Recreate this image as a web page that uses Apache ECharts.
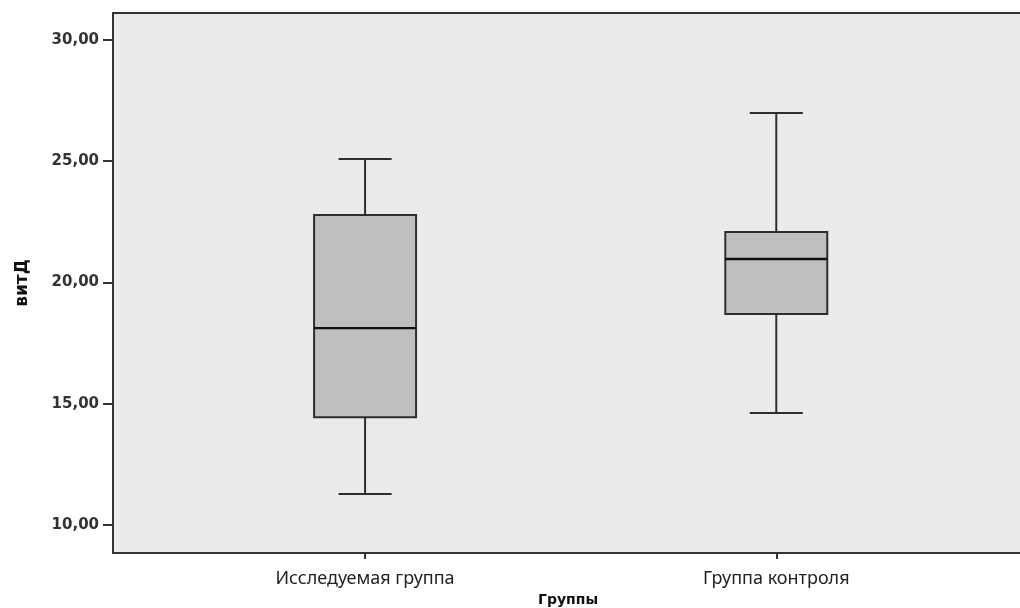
<!DOCTYPE html>
<html>
<head>
<meta charset="utf-8">
<script src="https://cdn.jsdelivr.net/npm/echarts@6/dist/echarts.min.js"></script>
<style>
  html, body { margin: 0; padding: 0; background: #fff; }
  #chart { width: 1020px; height: 608px; }
</style>
</head>
<body>
<div id="chart"></div>
<script>
// Groups and their box-plot statistics (витД)
const groups = ['Исследуемая группа', 'Группа контроля'];
const groupPos = [1, 2];
const whiskerLow = [11.28, 14.62];
const q1 = [14.45, 18.70];
const median = [18.12, 20.97];
const q3 = [22.78, 22.08];
const whiskerHigh = [25.09, 26.99];
const yTicks = [10, 15, 20, 25, 30];

const seriesData = groups.map((g, i) => [groupPos[i], whiskerLow[i], q1[i], median[i], q3[i], whiskerHigh[i]]);

const LINE = '#2e2e2e';
const BOX_W = 0.248;   // box width in x-axis units
const CAP_W = 0.129;   // whisker cap width in x-axis units

function renderItem(params, api) {
  const x = api.value(0);
  const pLow = api.coord([x, api.value(1)]);
  const pQ1 = api.coord([x, api.value(2)]);
  const pMed = api.coord([x, api.value(3)]);
  const pQ3 = api.coord([x, api.value(4)]);
  const pHigh = api.coord([x, api.value(5)]);
  const halfBox = api.size([BOX_W, 0])[0] / 2;
  const halfCap = api.size([CAP_W, 0])[0] / 2;
  const cx = pQ1[0];
  const lineStyle = { stroke: LINE, lineWidth: 2, fill: null };
  return {
    type: 'group',
    children: [
      { type: 'line', shape: { x1: cx, y1: pHigh[1], x2: cx, y2: pQ3[1] }, style: lineStyle },
      { type: 'line', shape: { x1: cx, y1: pLow[1], x2: cx, y2: pQ1[1] }, style: lineStyle },
      { type: 'line', shape: { x1: cx - halfCap, y1: pHigh[1], x2: cx + halfCap, y2: pHigh[1] }, style: lineStyle },
      { type: 'line', shape: { x1: cx - halfCap, y1: pLow[1], x2: cx + halfCap, y2: pLow[1] }, style: lineStyle },
      { type: 'rect', shape: { x: cx - halfBox, y: pQ3[1], width: halfBox * 2, height: pQ1[1] - pQ3[1] },
        style: { fill: '#bfbfbf', stroke: LINE, lineWidth: 2 } },
      { type: 'line', shape: { x1: cx - halfBox, y1: pMed[1], x2: cx + halfBox, y2: pMed[1] },
        style: { stroke: '#111', lineWidth: 2.4 } }
    ]
  };
}

const chart = echarts.init(document.getElementById('chart'), null, { renderer: 'canvas' });
chart.setOption({
  animation: false,
  grid: {
    left: 113, top: 13, right: -3, bottom: 55,
    outerBoundsMode: 'none', containLabel: false,
    show: true, backgroundColor: '#ebebeb', borderColor: '#333', borderWidth: 2
  },
  xAxis: {
    type: 'value',
    min: 0.387, max: 2.600,
    splitLine: { show: false },
    axisLine: { show: true, onZero: false, lineStyle: { color: '#333', width: 2 } },
    axisTick: { show: true, customValues: groupPos, length: 6, lineStyle: { color: '#333', width: 2 } },
    axisLabel: {
      customValues: groupPos,
      formatter: v => groups[groupPos.indexOf(Math.round(v))] || '',
      color: '#222', fontFamily: '"Liberation Sans Narrow", "Noto Sans"', fontSize: 18, margin: 17
    },
    name: 'Группы',
    nameLocation: 'middle',
    nameGap: 40,
    nameTextStyle: { color: '#111', fontFamily: 'DejaVu Sans', fontWeight: 'bold', fontSize: 14 }
  },
  yAxis: {
    type: 'value',
    min: 8.85, max: 31.11,
    splitLine: { show: false },
    axisLine: { show: true, lineStyle: { color: '#333', width: 2 } },
    axisTick: { show: true, customValues: yTicks, length: 10, lineStyle: { color: '#333', width: 2 } },
    axisLabel: {
      customValues: yTicks,
      formatter: v => v.toFixed(2).replace('.', ','),
      color: '#333', fontFamily: 'DejaVu Sans', fontWeight: 'bold', fontSize: 15, margin: 14
    },
    name: 'витД',
    nameLocation: 'middle',
    nameGap: 82,
    nameTextStyle: { color: '#111', fontFamily: 'DejaVu Sans', fontWeight: 'bold', fontSize: 17 }
  },
  series: [{
    type: 'custom',
    renderItem: renderItem,
    encode: { x: 0, y: [1, 2, 3, 4, 5] },
    data: seriesData
  }]
});
</script>
</body>
</html>
